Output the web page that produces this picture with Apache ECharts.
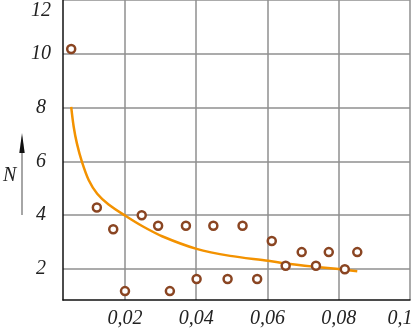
<!DOCTYPE html>
<html>
<head>
<meta charset="utf-8">
<script src="https://cdn.jsdelivr.net/npm/echarts@6/dist/echarts.min.js"></script>
<style>
  html, body { margin: 0; padding: 0; background: #fff; }
  #chart { width: 412px; height: 332px; }
</style>
</head>
<body>
<div id="chart"></div>
<script>
// измеренные точки (x, N)
const pointsX = [0.0049, 0.0121, 0.0167, 0.0200, 0.0247, 0.0293, 0.0326, 0.0371, 0.0401, 0.0448,
  0.0488, 0.0530, 0.0571, 0.0612, 0.0651, 0.0696, 0.0736, 0.0772, 0.0817, 0.0852];
const pointsN = [10.18, 4.29, 3.48, 1.18, 4.0, 3.61, 1.18, 3.61, 1.63, 3.61,
  1.63, 3.61, 1.63, 3.04, 2.12, 2.63, 2.12, 2.63, 1.99, 2.63];

// аппроксимирующая кривая
const curveX = [0.0049, 0.0056, 0.0065, 0.0079, 0.0098, 0.0122, 0.0154, 0.0201, 0.0248, 0.0304,
  0.0401, 0.0495, 0.0602, 0.0650, 0.0738, 0.0800, 0.0852];
const curveN = [8.03, 7.29, 6.67, 5.99, 5.31, 4.8, 4.4, 3.98, 3.6, 3.22,
  2.75, 2.49, 2.31, 2.21, 2.08, 2.0, 1.92];

const xTicks = [0.02, 0.04, 0.06, 0.08, 0.1];
const yTicks = [2, 4, 6, 8, 10, 12];

const chart = echarts.init(document.getElementById('chart'));
const font = '"Liberation Serif", "Times New Roman", serif';
const gridColor = '#8f8f8f';

const labelStyle = {
  fontFamily: font,
  fontStyle: 'italic',
  fontSize: 20,
  color: '#222',
};

const option = {
  animation: false,
  grid: { left: 63, right: 2, top: 0, bottom: 32, outerBoundsMode: 'none' },
  xAxis: {
    type: 'value',
    min: 0.0026,
    max: 0.1,
    axisLine: { show: true, lineStyle: { color: '#111', width: 1.5 } },
    axisTick: { show: false, customValues: xTicks },
    splitLine: { show: true, lineStyle: { color: gridColor, width: 1.5 } },
    axisLabel: Object.assign({
      customValues: xTicks,
      margin: 9,
      formatter: v => {
        const s = String(v).replace('.', ',');
        return v === 0.1 ? '{e|' + s + '}' : s;
      },
      rich: {
        e: Object.assign({ padding: [0, 20, 0, 0] }, labelStyle),
      },
    }, labelStyle),
  },
  yAxis: {
    type: 'value',
    min: 0.85,
    max: 12,
    axisLine: { show: true, lineStyle: { color: '#111', width: 1.5 } },
    axisTick: { show: false, customValues: yTicks },
    splitLine: { show: true, lineStyle: { color: gridColor, width: 1.5 } },
    axisLabel: Object.assign({
      customValues: yTicks,
      margin: 22,
      align: 'center',
      formatter: v => (v === 12 ? '{t|12}' : String(v)),
      rich: {
        t: Object.assign({ padding: [22, 0, 0, 0] }, labelStyle),
      },
    }, labelStyle),
  },
  graphic: [
    { // подпись оси N
      type: 'text',
      left: 3,
      top: 166,
      style: { text: 'N', font: 'italic 20px ' + font, fill: '#222' },
    },
    {
      type: 'line',
      shape: { x1: 22, y1: 150, x2: 22, y2: 215 },
      style: { stroke: '#888', lineWidth: 1.5 },
    },
    {
      type: 'polygon',
      shape: { points: [[22, 133], [19.3, 153], [24.7, 153]] },
      style: { fill: '#111' },
    },
  ],
  series: [
    {
      type: 'line',
      data: curveX.map((x, i) => [x, curveN[i]]),
      smooth: 0.3,
      showSymbol: false,
      lineStyle: { color: '#f39200', width: 2.5 },
      z: 2,
    },
    {
      type: 'scatter',
      data: pointsX.map((x, i) => [x, pointsN[i]]),
      symbol: 'circle',
      symbolSize: 8,
      itemStyle: { color: '#fff', borderColor: '#8a4522', borderWidth: 2.5, opacity: 1 },
      z: 3,
    },
  ],
};

chart.setOption(option);
</script>
</body>
</html>
